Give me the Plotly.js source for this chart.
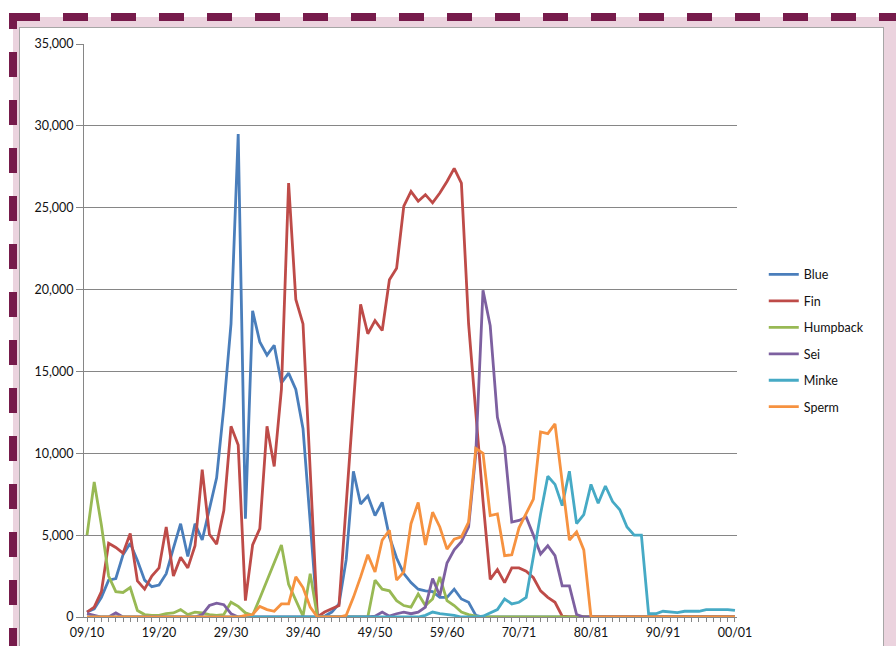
<!DOCTYPE html>
<html><head><meta charset="utf-8">
<script src="https://cdn.plot.ly/plotly-3.0.1.min.js"></script>
<style>
html,body{margin:0;padding:0;background:#fff;}
#wrap{position:relative;width:896px;height:646px;overflow:hidden;background:#fff;}
.pink{position:absolute;left:13px;top:17px;width:883px;height:629px;background:#EBD3DE;}
.panel{position:absolute;left:19px;top:27px;width:863px;height:640px;background:#fff;border:1px solid #A6A6A6;}
.dtop{position:absolute;left:63px;top:13px;width:833px;height:8px;background:repeating-linear-gradient(to right,#761B4B 0px,#761B4B 25px,transparent 25px,transparent 48px);}
.dleft{position:absolute;left:9px;top:52px;width:8px;height:594px;background:repeating-linear-gradient(to bottom,#761B4B 0px,#761B4B 25px,transparent 25px,transparent 48px);}
.c1{position:absolute;left:9px;top:13px;width:31px;height:8px;background:#761B4B;}
.c2{position:absolute;left:9px;top:13px;width:8px;height:16px;background:#761B4B;}
#chart{position:absolute;left:0;top:0;width:896px;height:646px;}
</style></head>
<body>
<div id="wrap">
<div class="pink"></div>
<div class="panel"></div>
<div class="dtop"></div>
<div class="dleft"></div>
<div class="c1"></div>
<div class="c2"></div>
<div id="chart"></div>
</div>
<script>
const seasons = ["09/10","10/11","11/12","12/13","13/14","14/15","15/16","16/17","17/18","18/19",
"19/20","20/21","21/22","22/23","23/24","24/25","25/26","26/27","27/28","28/29",
"29/30","30/31","31/32","32/33","33/34","34/35","35/36","36/37","37/38","38/39",
"39/40","40/41","41/42","42/43","43/44","44/45","45/46","46/47","47/48","48/49",
"49/50","50/51","51/52","52/53","53/54","54/55","55/56","56/57","57/58","58/59",
"59/60","60/61","61/62","62/63","63/64","64/65","65/66","66/67","67/68","68/69",
"70/71","71/72","72/73","73/74","74/75","75/76","76/77","77/78","78/79","79/80",
"80/81","81/82","82/83","83/84","84/85","85/86","86/87","87/88","88/89","89/90",
"90/91","91/92","92/93","93/94","94/95","95/96","96/97","97/98","98/99","99/00",
"00/01"];

const tickLabels = ["09/10","","","","","","","","","",
"19/20","","","","","","","","","",
"29/30","","","","","","","","","",
"39/40","","","","","","","","","",
"49/50","","","","","","","","","",
"59/60","","","","","","","","","",
"70/71","","","","","","","","","",
"80/81","","","","","","","","","",
"90/91","","","","","","","","","",
"00/01"];

const blue = [300,500,1200,2250,2350,3800,4500,3450,2250,1850,
1950,2650,4200,5700,3700,5700,4700,6600,8500,12800,
17900,29500,6000,18700,16800,16000,16600,14300,14900,13900,
11500,5800,0,50,300,800,3500,8900,6900,7400,
6200,7000,4900,3600,2650,2100,1700,1600,1550,1200,
1200,1700,1100,900,100,0,0,0,0,0,
0,0,0,0,0,0,0,0,0,0,
0,0,0,0,0,0,0,0,0,0,
0,0,0,0,0,0,0,0,0,0,
0];

const fin = [300,600,1550,4500,4250,3900,5100,2200,1700,2500,
3000,5500,2500,3650,3000,4350,9000,5050,4450,6500,
11650,10500,1000,4400,5400,11650,9200,13900,26500,19400,
17900,8700,0,300,500,700,6900,12900,19100,17300,
18100,17500,20600,21300,25100,26000,25400,25800,25300,25900,
26600,27400,26500,17900,12400,7100,2300,2900,2100,3000,
3000,2800,2400,1600,1200,900,50,0,0,0,
0,0,0,0,0,0,0,0,0,0,
0,0,0,0,0,0,0,0,0,0,
0];

const humpback = [5000,8250,5600,2500,1550,1500,1800,400,150,100,
100,200,250,450,150,300,250,150,100,150,
900,650,250,100,1150,2200,3300,4400,2000,1000,
50,2650,0,0,0,0,0,0,0,0,
2250,1700,1600,1000,700,600,1400,700,1100,2450,
1000,700,300,150,50,0,0,0,0,0,
0,0,0,0,0,0,0,0,0,0,
0,0,0,0,0,0,0,0,0,0,
0,0,0,0,0,0,0,0,0,0,
0];

const sei = [200,100,0,0,250,0,0,0,0,0,
0,0,0,0,0,0,150,700,850,750,
200,0,0,0,0,0,0,0,0,0,
0,0,0,0,0,0,0,0,0,0,
50,300,50,200,300,200,300,600,2350,1300,
3300,4100,4600,5500,10000,19950,17800,12200,10400,5800,
5900,6100,5000,3850,4350,3750,1900,1900,150,0,
0,0,0,0,0,0,0,0,0,0,
0,0,0,0,0,0,0,0,0,0,
0];

const minke = [0,0,0,0,0,0,0,0,0,0,
0,0,0,0,0,0,0,0,0,0,
0,0,0,0,0,0,0,0,0,0,
0,0,0,0,0,0,0,0,0,0,
0,0,0,0,0,0,0,100,300,200,
150,100,0,0,0,50,250,450,1100,800,
900,1200,3700,6300,8600,8100,6800,8900,5700,6250,
8100,6950,8000,7050,6550,5500,5000,5000,200,200,
350,300,270,350,350,350,450,450,450,450,
400];

const sperm = [0,0,0,0,0,0,0,0,0,0,
0,0,0,0,0,0,0,0,0,0,
0,0,100,150,650,450,350,800,800,2450,
1800,600,0,0,0,0,100,1200,2450,3800,
2750,4700,5300,2250,2750,5700,7000,4400,6400,5500,
4150,4750,4900,5800,10300,10000,6200,6300,3750,3800,
5450,6350,7200,11300,11200,11800,8200,4700,5200,4100,
0,0,0,0,0,0,0,0,0,0,
0,0,0,0,0,0,0,0,0,0,
0];

const seriesNames = ["Blue","Fin","Humpback","Sei","Minke","Sperm"];
const seriesData = [blue, fin, humpback, sei, minke, sperm];
const seriesColors = ["#4A7EBB","#BE4B48","#98B954","#7D60A0","#46AAC5","#F69240"];

const traces = seriesNames.map((n, k) => ({
  type: "scatter",
  mode: "lines",
  name: n,
  legendgroup: n,
  x: seasons,
  y: seriesData[k],
  line: {color: seriesColors[k], width: 2.8},
  hoverinfo: "skip"
}));

const FONT = "Lato, 'Open Sans', sans-serif";

const layout = {
  width: 896,
  height: 646,
  paper_bgcolor: "rgba(0,0,0,0)",
  plot_bgcolor: "rgba(0,0,0,0)",
  margin: {l: 84, r: 159, t: 44, b: 29, pad: 0},
  showlegend: true,
  font: {family: FONT, size: 12, color: "#222"},
  xaxis: {
    type: "category",
    categoryorder: "array",
    categoryarray: seasons,
    range: [-0.42, 90.28],
    tickmode: "array",
    tickvals: seasons,
    ticktext: tickLabels,
    ticks: "outside",
    ticklen: 4,
    tickcolor: "#868686",
    tickwidth: 1,
    showline: true,
    linecolor: "#868686",
    linewidth: 1,
    showgrid: false,
    zeroline: false,
    tickangle: 0,
    tickfont: {family: FONT, size: 12.5, color: "#111"}
  },
  yaxis: {
    range: [0, 35000],
    tickmode: "linear",
    tick0: 0,
    dtick: 5000,
    tickformat: ",d",
    ticks: "outside",
    ticklen: 7,
    tickcolor: "#868686",
    showline: true,
    linecolor: "#868686",
    linewidth: 1,
    showgrid: true,
    gridcolor: "#868686",
    gridwidth: 1,
    zeroline: false,
    tickfont: {family: FONT, size: 12.5, color: "#111"}
  },
  legend: {
    x: 1.041,
    xanchor: "left",
    y: 0.482,
    yanchor: "middle",
    traceorder: "grouped",
    tracegroupgap: 7.2,
    bgcolor: "rgba(0,0,0,0)",
    font: {family: FONT, size: 12.5, color: "#111"}
  }
};

Plotly.newPlot("chart", traces, layout, {displayModeBar: false, staticPlot: true});
</script>
</body></html>
